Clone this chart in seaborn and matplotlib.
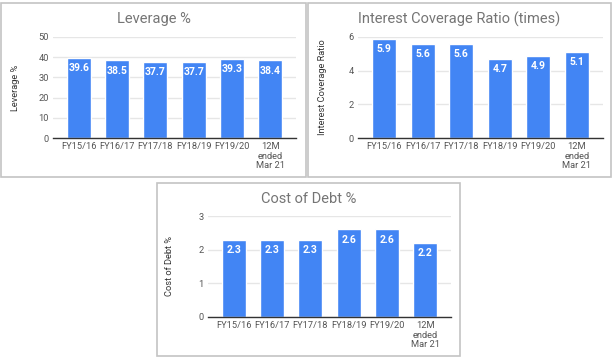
import matplotlib
matplotlib.use("Agg")
import matplotlib.pyplot as plt
import seaborn as sns
import pandas as pd
from matplotlib.patches import Rectangle

periods = ["FY15/16", "FY16/17", "FY17/18", "FY18/19", "FY19/20", "12M\nended\nMar 21"]
leverage = [39.6, 38.5, 37.7, 37.7, 39.3, 38.4]
coverage = [5.9, 5.6, 5.6, 4.7, 4.9, 5.1]
cost_of_debt = [2.3, 2.3, 2.3, 2.6, 2.6, 2.2]

BLUE = "#4285F4"

sns.set_theme(style="white")
plt.rcParams["font.family"] = ["Roboto", "DejaVu Sans"]

fig = plt.figure(figsize=(6.15, 3.61), dpi=100)
W, H = 615, 361


def px_axes(left, top, right, bottom):
    return fig.add_axes([left / W, 1 - bottom / H, (right - left) / W, (bottom - top) / H])


def panel(box, axbox, values, title, ylabel, ymax, step, ylab_x):
    # frame around each chart
    x0, y0, x1, y1 = box
    fig.add_artist(Rectangle((x0 / W, 1 - y1 / H), (x1 - x0) / W, (y1 - y0) / H,
                             transform=fig.transFigure, fill=False,
                             edgecolor="#c4c4c4", linewidth=1.2))
    fig.text((x0 + x1) / 2 / W, 1 - (y0 + 16) / H, title, ha="center", va="center",
             fontsize=10.5, color="#757575")

    ax = px_axes(*axbox)
    df = pd.DataFrame({"period": periods, "value": values})
    sns.barplot(data=df, x="period", y="value", color=BLUE, saturation=1,
                width=0.63, ax=ax)
    ax.set_xlim(-0.68, 5.68)
    ax.set_ylim(0, ymax)
    ax.set_yticks([i * step for i in range(int(round(ymax / step)) + 1)])
    ax.yaxis.grid(True, color="#e6e6e6", linewidth=1)
    ax.set_axisbelow(True)
    for s in ["top", "right", "left"]:
        ax.spines[s].set_visible(False)
    ax.spines["bottom"].set_color("#333333")
    ax.spines["bottom"].set_linewidth(1)
    ax.tick_params(axis="both", length=0, labelsize=6.7, colors="#555555", pad=3)
    for t in ax.get_xticklabels():
        t.set_linespacing(1.05)
    ax.set_xlabel("")
    ax.set_ylabel("")
    fig.text(ylab_x / W, 1 - (axbox[1] + axbox[3]) / 2 / H, ylabel, rotation=90,
             ha="center", va="center", fontsize=6.7, color="#333333")
    for c in ax.containers:
        ax.bar_label(c, fmt="%.1f", padding=-11, color="white",
                     fontsize=7.5, fontweight="bold")
    return ax


panel((1, 3, 306, 177), (53, 37, 296, 138), leverage, "Leverage %",
      "Leverage %", 50, 10, 16)
panel((308, 3, 611, 177), (358, 37, 603, 138), coverage,
      "Interest Coverage Ratio (times)", "Interest Coverage Ratio", 6, 2, 323)
panel((157, 183, 460, 356), (208, 216, 451, 317), cost_of_debt,
      "Cost of Debt %", "Cost of Debt %", 3, 1, 170)

fig.savefig("out.png", dpi=100)
